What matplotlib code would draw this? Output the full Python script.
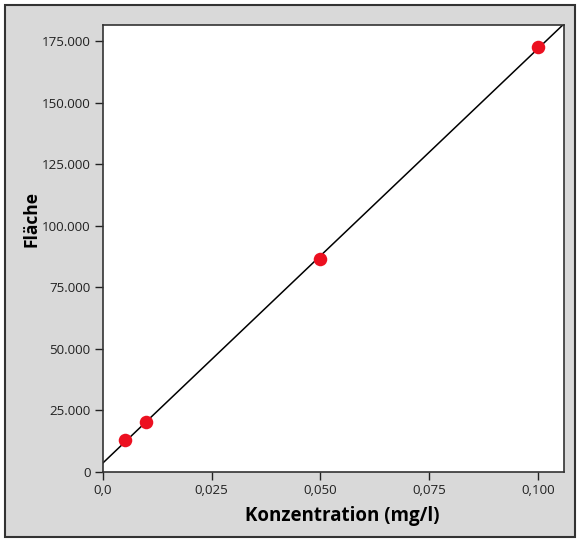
import matplotlib.pyplot as plt
import numpy as np
from matplotlib.patches import Rectangle

plt.rcParams['font.family'] = ['Open Sans', 'DejaVu Sans']

# measured calibration points
konz = [0.005, 0.01, 0.05, 0.1]
flaeche = [13000, 20300, 86500, 172500]

x_ticks = [0.0, 0.025, 0.05, 0.075, 0.1]
x_labels = ['0,0', '0,025', '0,050', '0,075', '0,100']
y_ticks = [0, 25000, 50000, 75000, 100000, 125000, 150000, 175000]
y_labels = ['0', '25.000', '50.000', '75.000', '100.000', '125.000', '150.000', '175.000']

x_max = 0.106
y_max = 181500


def draw():
    fig = plt.figure(figsize=(5.8, 5.42), dpi=100)
    fig.patch.set_facecolor('white')
    # gray panel with dark border, kept behind the axes
    panel = Rectangle((5 / 580, 5 / 542), 570 / 580, 532 / 542,
                      transform=fig.transFigure, facecolor='#d9d9d9',
                      edgecolor='#333333', linewidth=1.5, zorder=-10)
    fig.add_artist(panel)

    ax = fig.add_axes([103 / 580, 70 / 542, 461 / 580, 447 / 542])
    ax.set_zorder(1)
    ax.set_facecolor('white')

    slope, intercept = np.polyfit(konz, flaeche, 1)
    xs = np.array([0.0, x_max])
    ax.plot(xs, slope * xs + intercept, color='black', linewidth=1.1, zorder=2)
    ax.scatter(konz, flaeche, s=95, color='#ec1020', zorder=3, linewidths=0)

    ax.set_xlim(0, x_max)
    ax.set_ylim(0, y_max)
    ax.set_xticks(x_ticks, x_labels)
    ax.set_yticks(y_ticks, y_labels)
    ax.tick_params(direction='out', length=6, width=1, labelsize=9.6,
                   colors='#222222', pad=3)
    for sp in ax.spines.values():
        sp.set_color('#333333')
        sp.set_linewidth(1.2)

    ax.set_xlabel('Konzentration (mg/l)', fontsize=13.5, fontweight='bold')
    ax.xaxis.set_label_coords(0.52, -0.075)
    ax.set_ylabel('Fläche', fontsize=12.5, fontweight='bold')
    ax.yaxis.set_label_coords(-0.135, 0.565)

    fig.savefig('out.png', dpi=100, facecolor=fig.get_facecolor())


if __name__ == '__main__':
    draw()
